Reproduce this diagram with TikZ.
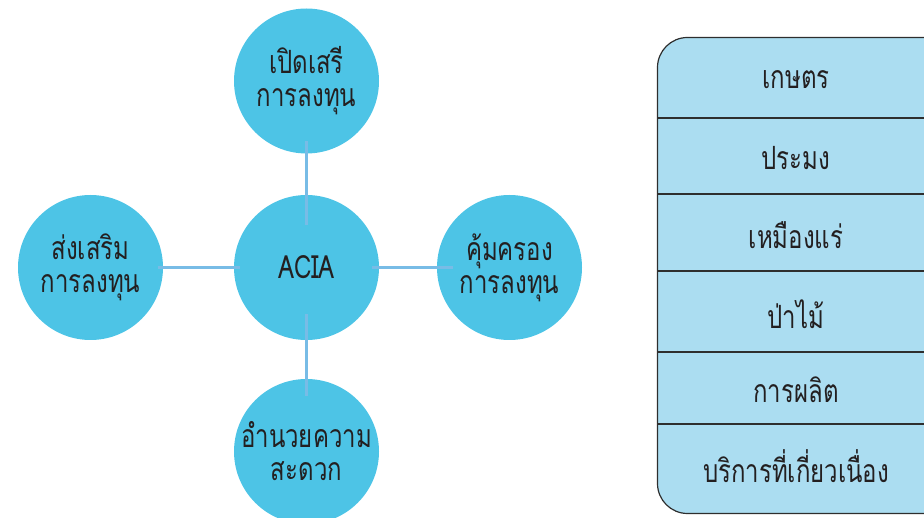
\documentclass[tikz,border=0pt]{standalone}
\usepackage{fontspec}
\newfontfamily\thaifont[Script=Thai,FakeStretch=0.75]{Loma}
\usetikzlibrary{calc}
\definecolor{circ}{HTML}{4DC4E6}
\definecolor{link}{HTML}{78BCE6}
\definecolor{panel}{HTML}{ABDDF1}
\definecolor{ink}{HTML}{231F20}
\definecolor{rule}{HTML}{2E2E2E}
\begin{document}
\begin{tikzpicture}[x=1pt,y=-1pt,
  bubble/.style={circle,fill=circ,minimum size=145pt,inner sep=0pt,align=center,
    text=ink,font=\thaifont\fontsize{32}{33}\selectfont},
  linkline/.style={draw=link,line width=2.2pt},
  cell/.style={text=ink,font=\thaifont\fontsize{32}{33}\selectfont,inner sep=0pt}]
\useasboundingbox (0,0) rectangle (924,518);
\clip (0,0) rectangle (924,518);
% circles
\node[bubble] (top) at (306.5,81) {เปิดเสรี\\การลงทุน};
\node[bubble] (acia) at (306.5,267.5) {ACIA};
\node[bubble] (left) at (90.5,267.5) {ส่งเสริม\\การลงทุน};
\node[bubble] (right) at (509.5,267.5) {คุ้มครอง\\การลงทุน};
\node[bubble] (bottom) at (306.5,451.5) {อำนวยความ\\สะดวก};
% connectors
\draw[linkline,shorten <=60pt,shorten >=42.5pt] (top.center) -- (acia.center);
\draw[linkline,shorten <=67.5pt,shorten >=66.5pt] (left.center) -- (acia.center);
\draw[linkline,shorten <=65.5pt,shorten >=56.5pt] (acia.center) -- (right.center);
\draw[linkline,shorten <=46.5pt,shorten >=55.5pt] (acia.center) -- (bottom.center);
% panel
\draw[rule,fill=panel,line width=1.2pt,rounded corners=30pt] (657.5,37.5) rectangle (960,513.5);
\foreach \yy in {118,194,271,352,424}{
  \draw[rule,line width=1.1pt] (657.5,\yy) -- (960,\yy);
}
\node[cell] (r1) at (796,80) {เกษตร};
\node[cell] (r2) at (796,158) {ประมง};
\node[cell] (r3) at (796,235) {เหมืองแร่};
\node[cell] (r4) at (796,314) {ป่าไม้};
\node[cell] (r5) at (796,390) {การผลิต};
\node[cell] (r6) at (796,466) {บริการที่เกี่ยวเนื่อง};
\end{tikzpicture}
\end{document}
